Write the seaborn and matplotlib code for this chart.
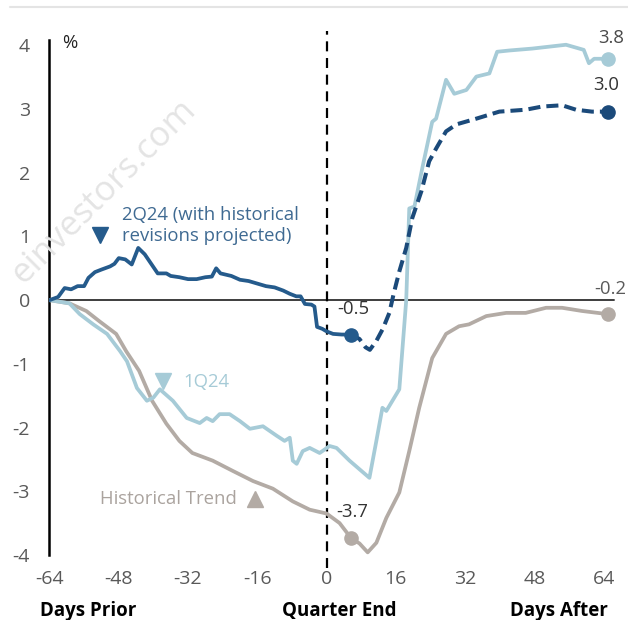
import matplotlib
matplotlib.use("Agg")
import matplotlib.pyplot as plt
from matplotlib.lines import Line2D
import numpy as np
import pandas as pd
import seaborn as sns

# ---- data -------------------------------------------------------------
q2_days = [-64, -62, -60.5, -59, -57.5, -56, -55, -53.5, -52, -50, -49, -48,
           -46.5, -45, -43.5, -42, -40, -39, -37, -36, -34, -32, -30, -28,
           -26.5, -25.5, -24.5, -22, -20, -18, -16, -14, -12, -10, -8.5, -7,
           -6, -5, -3.5, -2.8, -2.2, -1, 0, 1.5, 3.5, 5.7]
q2_vals = [0, 0.05, 0.19, 0.17, 0.22, 0.22, 0.35, 0.44, 0.48, 0.53, 0.57, 0.66,
           0.64, 0.56, 0.82, 0.72, 0.52, 0.42, 0.42, 0.38, 0.36, 0.33, 0.33, 0.36,
           0.37, 0.50, 0.42, 0.38, 0.32, 0.30, 0.26, 0.22, 0.20, 0.15, 0.10, 0.06,
           0.06, -0.06, -0.07, -0.10, -0.42, -0.45, -0.49, -0.53, -0.54, -0.54]

q2_proj_days = [5.7, 7.6, 9, 10, 11.5, 13, 14.5, 15.5, 16.8, 18.4, 19.8, 21.9,
                23.7, 25.3, 27.6, 30, 34.6, 39.9, 46, 49.8, 54.4, 57.6, 61.3, 65]
q2_proj_vals = [-0.54, -0.61, -0.74, -0.78, -0.64, -0.45, -0.20, 0.10, 0.45, 0.82,
                1.29, 1.71, 2.18, 2.38, 2.65, 2.76, 2.85, 2.96, 2.99, 3.04, 3.06,
                2.99, 2.96, 2.96]

q1_days = [-64, -59.4, -57, -53.9, -50.7, -47.7, -46.1, -43.8, -41.5, -40, -38.5,
           -35.5, -32.3, -29.3, -27.7, -26.3, -24.7, -22.4, -20, -17.7, -14.7,
           -11.5, -9.7, -8.5, -7.8, -6.9, -5.5, -3.9, -1.6, 0.7, 2.3, 5.3, 9.9,
           11.5, 12.9, 13.8, 16.8, 18.4, 19.1, 20.3, 22.1, 24.4, 25.3, 27.6,
           29.5, 32.3, 34.6, 37.6, 39.4, 42.2, 47.5, 55.3, 59.4, 60.6, 61.8, 65]
q1_vals = [0, -0.05, -0.22, -0.38, -0.53, -0.80, -0.96, -1.38, -1.58, -1.53, -1.40,
           -1.58, -1.85, -1.93, -1.85, -1.90, -1.79, -1.79, -1.90, -2.02, -1.98,
           -2.13, -2.21, -2.16, -2.52, -2.57, -2.37, -2.32, -2.40, -2.29, -2.32,
           -2.52, -2.79, -2.21, -1.69, -1.74, -1.40, 0.0, 1.44, 1.47, 2.07, 2.80,
           2.85, 3.46, 3.24, 3.30, 3.51, 3.56, 3.90, 3.92, 3.95, 4.01, 3.93, 3.72,
           3.79, 3.79]

hist_days = [-64, -59.4, -55.5, -52.5, -48.6, -46.3, -43.3, -40.3, -37, -34, -31,
             -26.3, -21.7, -17, -12.4, -7.8, -3.9, 0, 3, 5.7, 7.6, 9.5, 11.5,
             13.8, 16.8, 19.1, 21.4, 24.4, 27.6, 30.6, 32.9, 36.9, 41.5, 46,
             50.7, 54.4, 59, 65]
hist_vals = [0, -0.05, -0.17, -0.33, -0.53, -0.80, -1.11, -1.58, -1.94, -2.21,
             -2.40, -2.52, -2.68, -2.84, -2.96, -3.16, -3.29, -3.35, -3.50, -3.74,
             -3.82, -3.96, -3.81, -3.42, -3.02, -2.37, -1.69, -0.91, -0.53, -0.41,
             -0.38, -0.25, -0.20, -0.20, -0.12, -0.12, -0.17, -0.22]

x_ticks = [-64, -48, -32, -16, 0, 16, 32, 48, 64]
y_ticks = [-4, -3, -2, -1, 0, 1, 2, 3, 4]

# ---- style ------------------------------------------------------------
C_Q2 = "#255b8c"
C_Q2_PROJ = "#1b4a7a"
C_Q1 = "#a6cbd7"
C_HIST = "#b3aba5"
C_TICK = "#595959"

sns.set_theme(style="white")
plt.rcParams["font.family"] = ["Open Sans", "DejaVu Sans"]

fig = plt.figure(figsize=(6.28, 6.20), dpi=100)
ax = fig.add_axes([0.0788, 0.105, 0.910, 0.830])

# watermark and top rule
fig.text(0.165, 0.69, "einvestors.com", rotation=45, ha="center", va="center",
         fontsize=25, color="#e4e4e4", zorder=0)
fig.add_artist(Line2D([0.016, 1.0], [0.989, 0.989], color="#e4e4e4", lw=1.5))

# zero line and quarter-end marker
ax.plot([-64, 66.5], [0, 0], color="#3d3d3d", lw=1.4, zorder=1)
ax.plot([0, 0], [-4.2, 4.22], color="black", lw=1.6, ls=(0, (4.5, 3)),
        clip_on=False, zorder=1)

df_hist = pd.DataFrame({"day": hist_days, "val": hist_vals})
df_q1 = pd.DataFrame({"day": q1_days, "val": q1_vals})
df_q2 = pd.DataFrame({"day": q2_days, "val": q2_vals})
df_q2p = pd.DataFrame({"day": q2_proj_days, "val": q2_proj_vals})

sns.lineplot(data=df_hist, x="day", y="val", ax=ax, color=C_HIST, lw=2.7,
             sort=False, zorder=3)
sns.lineplot(data=df_q1, x="day", y="val", ax=ax, color=C_Q1, lw=2.7,
             sort=False, zorder=3)
sns.lineplot(data=df_q2p, x="day", y="val", ax=ax, color=C_Q2_PROJ, lw=2.9,
             ls=(0, (3, 1.5)), sort=False, zorder=4)
sns.lineplot(data=df_q2, x="day", y="val", ax=ax, color=C_Q2, lw=2.7,
             sort=False, zorder=4)

# end-point dots with value labels
hist_q_end = hist_vals[hist_days.index(5.7)]
dots = [
    (hist_days[-1], hist_vals[-1], C_HIST),
    (q1_days[-1], q1_vals[-1], C_Q1),
    (q2_proj_days[-1], q2_proj_vals[-1], C_Q2_PROJ),
    (q2_days[-1], q2_vals[-1], C_Q2),
    (5.7, hist_q_end, C_HIST),
]
for dx, dy, c in dots:
    ax.plot(dx, dy, "o", color=c, ms=9.5, zorder=5, clip_on=False)

fs = 13.3
ax.text(65.7, 4.11, f"{q1_vals[-1]:.1f}", ha="center", va="center",
        fontsize=fs, color="#4a4a4a", clip_on=False)
ax.text(64.6, 3.38, f"{q2_proj_vals[-1]:.1f}", ha="center", va="center",
        fontsize=fs, color="#333333")
ax.text(65.5, 0.17, f"{hist_vals[-1]:.1f}", ha="center", va="center",
        fontsize=fs, color="#5a5a5a")
ax.text(2.4, -0.14, f"{q2_vals[-1]:.1f}", ha="left", va="center",
        fontsize=fs, color="#333333")
ax.text(2.2, -3.33, f"{hist_q_end:.1f}", ha="left", va="center",
        fontsize=fs, color="#333333")

# series labels
ax.text(-47.3, 1.17, "2Q24 (with historical\nrevisions projected)", ha="left",
        va="center", fontsize=fs, color="#3f6a92", linespacing=1.25)
ax.plot(-52.3, 1.02, "v", color=C_Q2, ms=11)
ax.plot(-37.7, -1.27, "v", color=C_Q1, ms=11)
ax.text(-33.1, -1.29, "1Q24", ha="left", va="center", fontsize=fs, color=C_Q1)
ax.text(-20.7, -3.13, "Historical Trend", ha="right", va="center",
        fontsize=fs, color="#aaa39e")
ax.plot(-16.5, -3.12, "^", color=C_HIST, ms=11)
ax.text(-59.3, 4.03, "%", ha="center", va="center", fontsize=fs, color="#222222")

# axes
ax.set_xlim(-64, 68)
ax.set_ylim(-4, 4.08)
ax.set_xticks(x_ticks)
ax.set_xticklabels([str(t) for t in x_ticks])
ax.set_yticks(y_ticks)
ax.set_yticklabels([str(t) for t in y_ticks])
ax.tick_params(axis="both", length=0, labelsize=14, labelcolor=C_TICK)
ax.tick_params(axis="y", pad=14)
ax.tick_params(axis="x", pad=11)
ax.set_xlabel("")
ax.set_ylabel("")
for side in ["top", "right", "bottom"]:
    ax.spines[side].set_visible(False)
ax.spines["left"].set_color("black")
ax.spines["left"].set_linewidth(1.8)
ax.set_facecolor("none")

# bottom captions
for x, s, ha in [(0.064, "Days Prior", "left"), (0.541, "Quarter End", "center"),
                 (0.968, "Days After", "right")]:
    fig.text(x, 0.014, s, ha=ha, va="center", fontsize=13.5, fontweight="bold",
             color="black")

fig.savefig("out.png", dpi=100)
